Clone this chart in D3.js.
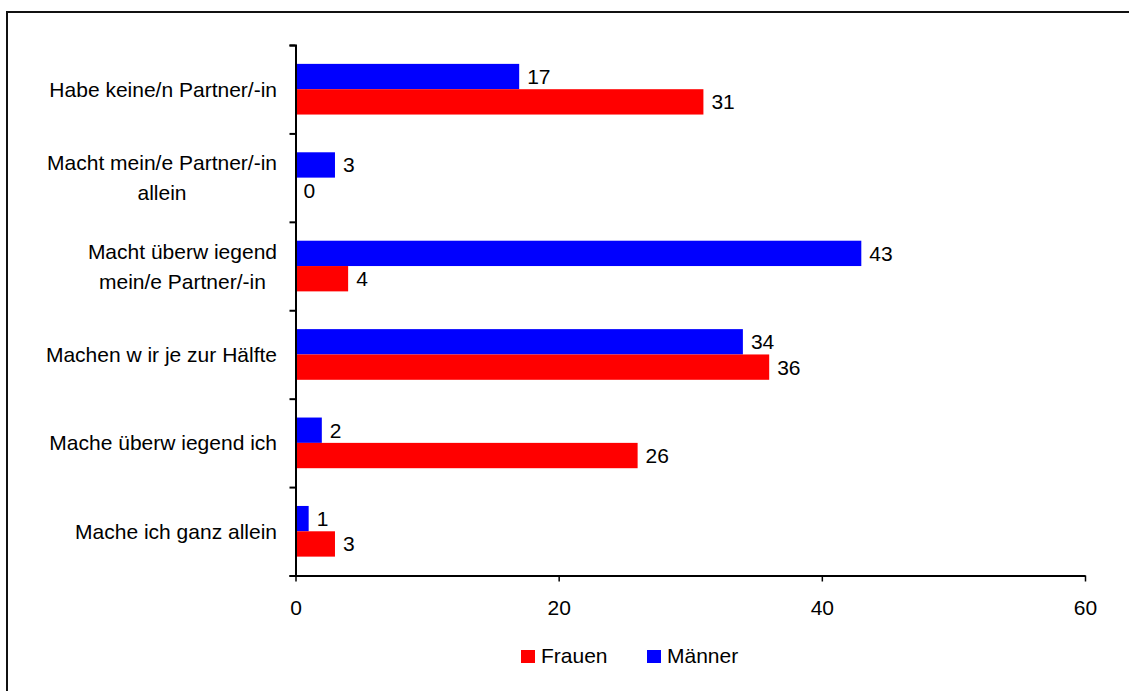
<!DOCTYPE html>
<html>
<head>
<meta charset="utf-8">
<script src="https://cdn.jsdelivr.net/npm/d3@7"></script>
<style>
  html, body { margin: 0; padding: 0; background: #fff; }
  svg { display: block; font-family: Arial, "Liberation Sans", sans-serif; }
</style>
</head>
<body>
<svg id="chart" width="1129" height="691"></svg>
<script>
const categories = [
  "Habe keine/n Partner/-in",
  "Macht mein/e Partner/-in\nallein",
  "Macht überw iegend\nmein/e Partner/-in",
  "Machen w ir je zur Hälfte",
  "Mache überw iegend ich",
  "Mache ich ganz allein"
];
const seriesNames = ["Männer", "Frauen"];
const frauen = [31, 0, 4, 36, 26, 3];
const maenner = [17, 3, 43, 34, 2, 1];
const xTicks = [0, 20, 40, 60];
const legendOrder = ["Frauen", "Männer"];
const colors = { "Frauen": "#ff0000", "Männer": "#0000ff" };

const values = { "Frauen": frauen, "Männer": maenner };

const svg = d3.select("#chart");
const fontSize = 21;

// outer frame
svg.append("rect")
  .attr("x", 7).attr("y", 12)
  .attr("width", 1140).attr("height", 700)
  .attr("fill", "none").attr("stroke", "#111").attr("stroke-width", 2);

const x = d3.scaleLinear().domain([0, 60]).range([295.5, 1085]);
const y0 = d3.scaleBand().domain(categories).range([45, 575.5]).padding(0);
const y1 = d3.scaleBand().domain(seriesNames).range([0, y0.bandwidth()]).paddingInner(0).paddingOuter(0.745);

// bars
const g = svg.append("g");
categories.forEach((c, i) => {
  seriesNames.forEach(s => {
    const v = values[s][i];
    g.append("rect")
      .attr("x", x(0))
      .attr("y", y0(c) + y1(s))
      .attr("width", x(v) - x(0))
      .attr("height", y1.bandwidth())
      .attr("fill", colors[s]);
    g.append("text")
      .attr("x", x(v) + 8)
      .attr("y", y0(c) + y1(s) + y1.bandwidth() / 2 + 7.5)
      .attr("font-size", fontSize)
      .attr("fill", "#000")
      .text(v);
  });
});

// y axis
const yAxis = d3.axisLeft(d3.scaleLinear().domain([0, categories.length]).range([45, 575.5]))
  .tickValues(d3.range(0, categories.length + 1))
  .tickSize(6).tickFormat("");
const ya = svg.append("g").attr("transform", `translate(${x(0)},0)`).call(yAxis);
ya.select(".domain").attr("stroke", "#000").attr("stroke-width", 2);
ya.selectAll(".tick line").attr("stroke", "#000").attr("stroke-width", 2);

// x axis
const xAxis = d3.axisBottom(x).tickValues(xTicks).tickSize(6).tickSizeOuter(0).tickPadding(0);
const xa = svg.append("g").attr("transform", `translate(0,${575.5})`).call(xAxis);
xa.select(".domain").attr("stroke", "#000").attr("stroke-width", 2);
xa.selectAll(".tick line").attr("stroke", "#000").attr("stroke-width", 1.5);
xa.selectAll(".tick text").attr("font-size", fontSize).attr("font-family", "Arial, 'Liberation Sans', sans-serif")
  .attr("fill", "#000").attr("dy", null).attr("y", 39.5);

// category labels
const labelRight = 277;
const lineH = 30;
categories.forEach(c => {
  const lines = c.split("\n");
  const cy = y0(c) + y0.bandwidth() / 2;
  const t = svg.append("text").attr("font-size", fontSize).attr("fill", "#000");
  const tspans = lines.map((ln, k) => t.append("tspan").text(ln));
  const widths = tspans.map(ts => ts.node().getComputedTextLength());
  const maxW = d3.max(widths);
  const cx = labelRight - maxW / 2;
  const firstBase = cy + 7.5 - (lines.length - 1) * lineH / 2;
  t.attr("text-anchor", "middle");
  tspans.forEach((ts, k) => ts.attr("x", cx).attr("y", firstBase + k * lineH));
});

// legend
const legendItems = [
  { name: "Frauen", x: 521 },
  { name: "Männer", x: 647 }
];
legendItems.forEach(li => {
  svg.append("rect").attr("x", li.x).attr("y", 650).attr("width", 14).attr("height", 13)
    .attr("fill", colors[li.name]);
  svg.append("text").attr("x", li.x + 20).attr("y", 662.5)
    .attr("font-size", fontSize).attr("fill", "#000").text(li.name);
});
</script>
</body>
</html>
